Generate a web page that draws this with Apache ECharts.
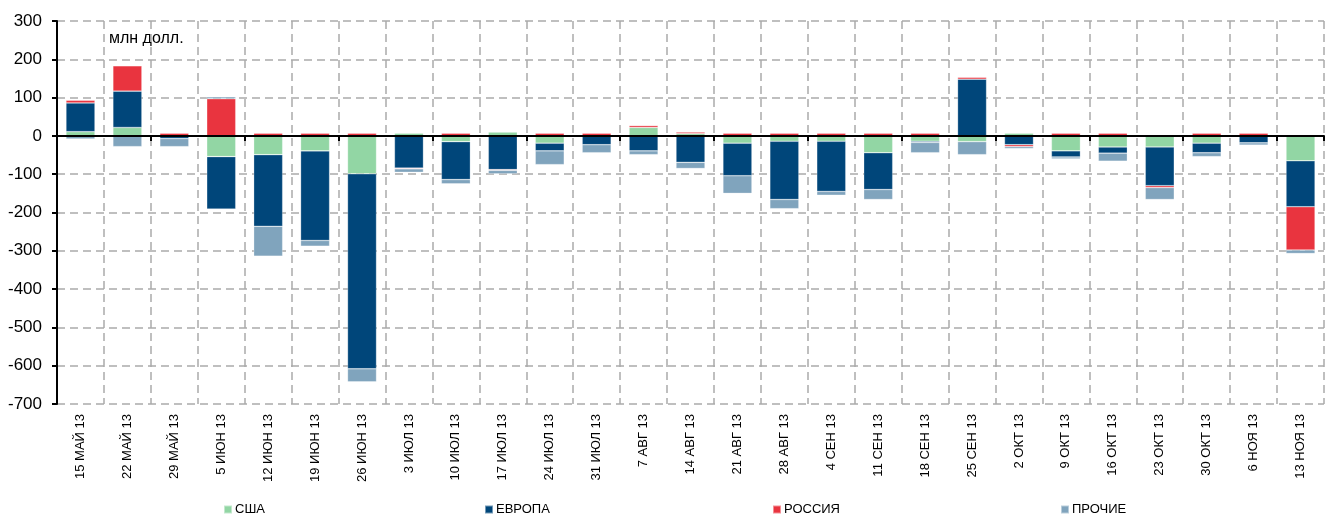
<!DOCTYPE html>
<html>
<head>
<meta charset="utf-8">
<script src="https://cdn.jsdelivr.net/npm/echarts@6/dist/echarts.min.js"></script>
<style>
  html, body { margin: 0; padding: 0; background: #fff; }
  #myChart { width: 1335px; height: 516px; }
</style>
</head>
<body>
<div id="myChart"></div>
<script>
// weeks
const categories = ['15 МАЙ 13', '22 МАЙ 13', '29 МАЙ 13', '5 ИЮН 13', '12 ИЮН 13', '19 ИЮН 13', '26 ИЮН 13',
  '3 ИЮЛ 13', '10 ИЮЛ 13', '17 ИЮЛ 13', '24 ИЮЛ 13', '31 ИЮЛ 13', '7 АВГ 13', '14 АВГ 13', '21 АВГ 13',
  '28 АВГ 13', '4 СЕН 13', '11 СЕН 13', '18 СЕН 13', '25 СЕН 13', '2 ОКТ 13', '9 ОКТ 13', '16 ОКТ 13',
  '23 ОКТ 13', '30 ОКТ 13', '6 НОЯ 13', '13 НОЯ 13']

// млн долл.
const usa = [11, 22, 0, -54, -49, -39, -99, 7, -15, 10, -19, 0, 22, 6, -19, -14, -14, -44, -14, -15, 7, -39, -29, -29, -19, 0, -65]
const europe = [75, 95, -7, -137, -187, -234, -509, -84, -99, -88, -20, -23, -39, -69, -85, -152, -131, -96, -3, 148, -23, -16, -16, -101, -25, -18, -120]
const russia = [7, 66, 7, 97, 7, 7, 7, -2, 7, -2, 7, 7, 5, 4, 7, 7, 7, 7, 7, 5, -5, 7, 7, -5, 7, 7, -113]
const other = [-8, -28, -21, 5, -78, -15, -34, -9, -11, -9, -36, -21, -10, -16, -46, -24, -10, -26, -27, -34, -5, -5, -21, -31, -10, -6, -9]

const yTicks = { min: -700, max: 300, interval: 100 }

const font = "'Liberation Sans', Arial, sans-serif"
const colors = ['#92d6a4', '#00467a', '#e9343f', '#80a4bd']

const myChart = echarts.init(document.getElementById('myChart'))

function bar(name, data, color) {
  return {
    name: name,
    type: 'bar',
    stack: 'total',
    barWidth: 29,
    xAxisIndex: 0,
    itemStyle: { color: color, borderColor: 'rgba(255,255,255,0.45)', borderWidth: 0.6 },
    data: data
  }
}

function legendAt(name, left) {
  return {
    data: [name],
    left: left,
    top: 498,
    itemWidth: 8,
    itemHeight: 8,
    icon: 'rect',
    itemGap: 0,
    textStyle: { fontFamily: font, fontSize: 13, color: '#000', padding: [0, 0, 0, -2] }
  }
}

const option = {
  animation: false,
  grid: { left: 57, right: 11, top: 21, height: 383 },
  graphic: [{
    type: 'text',
    left: 109,
    top: 31,
    style: { text: 'млн долл.', font: '16px ' + font, fill: '#000' }
  }],
  legend: [
    legendAt('США', 218),
    legendAt('ЕВРОПА', 479),
    legendAt('РОССИЯ', 767),
    legendAt('ПРОЧИЕ', 1055)
  ],
  xAxis: [
    {
      type: 'category',
      data: categories,
      position: 'bottom',
      axisLine: { show: false, onZero: false },
      axisTick: { show: false },
      splitLine: { show: true, lineStyle: { color: '#aaa', width: 1.5, type: [8, 5] } },
      axisLabel: { rotate: 90, fontFamily: font, fontSize: 13, color: '#000', margin: 10, interval: 0 }
    },
    {
      // zero line with ticks
      type: 'category',
      data: categories,
      position: 'bottom',
      z: 5,
      axisLine: { show: true, onZero: true, lineStyle: { color: '#000', width: 2 } },
      axisTick: { show: true, length: 5, lineStyle: { color: '#000', width: 2 } },
      axisLabel: { show: false },
      splitLine: { show: false }
    }
  ],
  yAxis: {
    type: 'value',
    min: yTicks.min,
    max: yTicks.max,
    interval: yTicks.interval,
    axisLine: { show: true, lineStyle: { color: '#000', width: 2 } },
    axisTick: { show: true, length: 5, lineStyle: { color: '#000', width: 2 } },
    splitLine: { lineStyle: { color: '#aaa', width: 1.5, type: [8, 5] } },
    axisLabel: { fontFamily: font, fontSize: 17, color: '#000', margin: 15 }
  },
  series: [
    bar('США', usa, colors[0]),
    bar('ЕВРОПА', europe, colors[1]),
    bar('РОССИЯ', russia, colors[2]),
    bar('ПРОЧИЕ', other, colors[3])
  ]
}

myChart.setOption(option)
</script>
</body>
</html>
